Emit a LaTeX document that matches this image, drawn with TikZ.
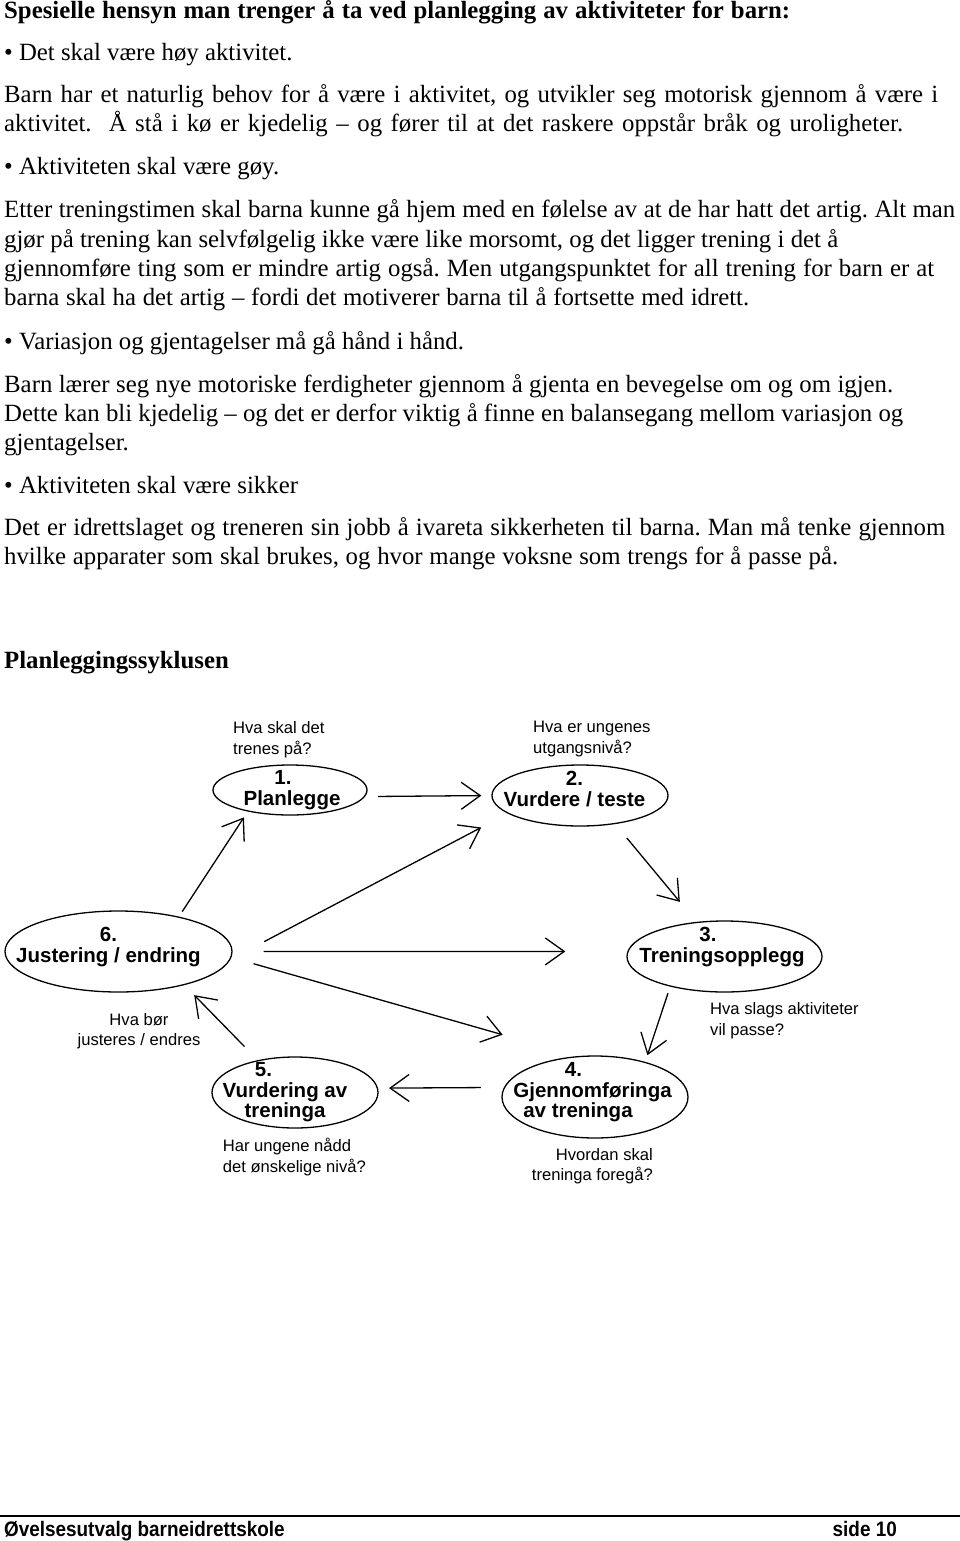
\documentclass[tikz,border=0pt]{standalone}
\usepackage{fontspec}
\setmainfont{Liberation Serif}
\newfontfamily\arialfont{Liberation Sans}
\newfontfamily\footfont[FakeStretch=0.9]{Liberation Sans}
\usetikzlibrary{shapes.geometric,arrows.meta}

\newcommand{\bodyfont}{\fontsize{24.8}{29.3}\selectfont\frenchspacing}
\newcommand{\askfont}{\arialfont\fontsize{16.6}{20.7}\selectfont}
\newcommand{\stepfont}{\arialfont\bfseries\fontsize{20.5}{20.7}\selectfont}
\newcommand{\fitto}[2]{\makebox[#1pt][s]{#2}}

\begin{document}
\begin{tikzpicture}[x=1pt, y=-1pt,
            textline/.style={anchor=base west, inner sep=0pt, font=\bodyfont},
            stage/.style={ellipse, draw, line width=1.3pt, inner sep=0pt},
            stage text/.style={anchor=north, inner sep=0pt, align=center, font=\stepfont},
            ask/.style={inner sep=0pt, font=\askfont},
            flow/.style={line width=1.3pt, -{Straight Barb[length=19pt, width=27pt]}}]

        \useasboundingbox (0,0) rectangle (960,1541);

        % tekst over figuren
        \node[textline] (head) at (4,18.5) {\bfseries\fitto{786}{Spesielle hensyn man trenger å ta ved planlegging av aktiviteter for barn:}};
        \node[textline] (p1) at (4,61) {• Det skal være høy aktivitet.};
        \node[textline] (p1a) at (4,103) {\fitto{934}{Barn har et naturlig behov for å være i aktivitet, og utvikler seg motorisk gjennom å være i}};
        \node[textline] (p1b) at (4,132) {\fitto{899}{aktivitet.\ \ Å stå i kø er kjedelig – og fører til at det raskere oppstår bråk og uroligheter.}};
        \node[textline] (p2) at (4,175) {• Aktiviteten skal være gøy.};
        \node[textline] (p2a) at (4,218) {\fitto{951}{Etter treningstimen skal barna kunne gå hjem med en følelse av at de har hatt det artig. Alt man}};
        \node[textline] (p2b) at (4,247) {\fitto{834}{gjør på trening kan selvfølgelig ikke være like morsomt, og det ligger trening i det å}};
        \node[textline] (p2c) at (4,276) {\fitto{930}{gjennomføre ting som er mindre artig også. Men utgangspunktet for all trening for barn er at}};
        \node[textline] (p2d) at (4,305.5) {\fitto{745}{barna skal ha det artig – fordi det motiverer barna til å fortsette med idrett.}};
        \node[textline] (p3) at (4,349) {• Variasjon og gjentagelser må gå hånd i hånd.};
        \node[textline] (p3a) at (4,392) {\fitto{889}{Barn lærer seg nye motoriske ferdigheter gjennom å gjenta en bevegelse om og om igjen.}};
        \node[textline] (p3b) at (4,421) {\fitto{899}{Dette kan bli kjedelig – og det er derfor viktig å finne en balansegang mellom variasjon og}};
        \node[textline] (p3c) at (4,450) {gjentagelser.};
        \node[textline] (p4) at (4,493) {• Aktiviteten skal være sikker};
        \node[textline] (p4a) at (4,535) {\fitto{941}{Det er idrettslaget og treneren sin jobb å ivareta sikkerheten til barna. Man må tenke gjennom}};
        \node[textline] (p4b) at (4,564.5) {\fitto{834}{hvilke apparater som skal brukes, og hvor mange voksne som trengs for å passe på.}};
        \node[textline] (cycle) at (4,668) {\bfseries Planleggingssyklusen};

        % syklusen
        \node[stage, minimum width=154pt, minimum height=50pt] (plan) at (290,790) {};
        \node[stage, minimum width=176pt, minimum height=61pt] (vurd) at (580,795.5) {};
        \node[stage, minimum width=195pt, minimum height=71pt] (trening) at (724.5,956.5) {};
        \node[stage, minimum width=227pt, minimum height=81pt] (just) at (118.5,951.5) {};
        \node[stage, minimum width=166pt, minimum height=71pt] (vurdering) at (295,1092.5) {};
        \node[stage, minimum width=186pt, minimum height=82pt] (gjennom) at (595,1097) {};

        \node[stage text] (plan-t) at (292,770.3) {\hspace*{-18pt}1.\\Planlegge};
        \node[stage text] (vurd-t) at (574.5,771.3) {2.\\Vurdere / teste};
        \node[stage text] (trening-t) at (722,927) {\hspace*{-28pt}3.\\Treningsopplegg};
        \node[stage text] (just-t) at (108.5,927) {6.\\Justering / endring};
        \node[stage text] (vurdering-t) at (285,1062) {\hspace*{-43pt}5.\\Vurdering av\\treninga};
        \node[stage text] (gjennom-t) at (592.5,1062) {\hspace*{-38pt}4.\\Gjennomføringa\\\hspace*{-29pt}av treninga};

        \node[ask, anchor=north west, align=left] (ask-plan) at (233,721.3) {Hva skal det\\trenes på?};
        \node[ask, anchor=north west, align=left] (ask-vurd) at (533,721) {Hva er ungenes\\utgangsnivå?};
        \node[ask, anchor=north west, align=left] (ask-trening) at (710,1002.2) {Hva slags aktiviteter\\vil passe?};
        \node[ask, anchor=north, align=center] (ask-just) at (139,1012.9) {Hva bør\\justeres / endres};
        \node[ask, anchor=north west, align=left] (ask-vurdering) at (222.7,1137.9) {Har ungene nådd\\det ønskelige nivå?};
        \node[ask, anchor=north east, align=right] (ask-gjennom) at (653,1147.9) {Hvordan skal\\treninga foregå?};

        \draw[flow, shorten <=13pt, shorten >=10pt] (plan.-5) -- (vurd.west);
        \draw[flow, shorten <=18pt, shorten >=26pt] (vurd.-39) -- (trening.129);
        \draw[flow, shorten <=7pt, shorten >=7pt] (trening.209) -- (gjennom.35);
        \draw[flow, shorten <=23pt, shorten >=11pt] (gjennom.174) -- (vurdering.3);
        \draw[flow, shorten <=19pt, shorten >=14pt] (vurdering.139) -- (just.-27);
        \draw[flow, shorten <=6pt, shorten >=7pt] (just.30) -- (plan.207);
        \draw[flow, shorten <=38pt, shorten >=30pt] (just.-4) -- (vurd.194);
        \draw[flow, shorten <=31pt, shorten >=62pt] (just.east) -- (trening.177);
        \draw[flow, shorten <=23pt, shorten >=78pt] (just.-3) -- (gjennom.113);

        % bunntekst
        \draw[line width=2.5pt] (0,1516) -- (960,1516);
        \node[anchor=base west, inner sep=0pt, font=\footfont\bfseries\fontsize{21}{25}\selectfont] (foot) at (4,1536) {Øvelsesutvalg barneidrettskole};
        \node[anchor=base east, inner sep=0pt, font=\footfont\bfseries\fontsize{21}{25}\selectfont] (page) at (897,1536) {side 10};
    \end{tikzpicture}
\end{document}
